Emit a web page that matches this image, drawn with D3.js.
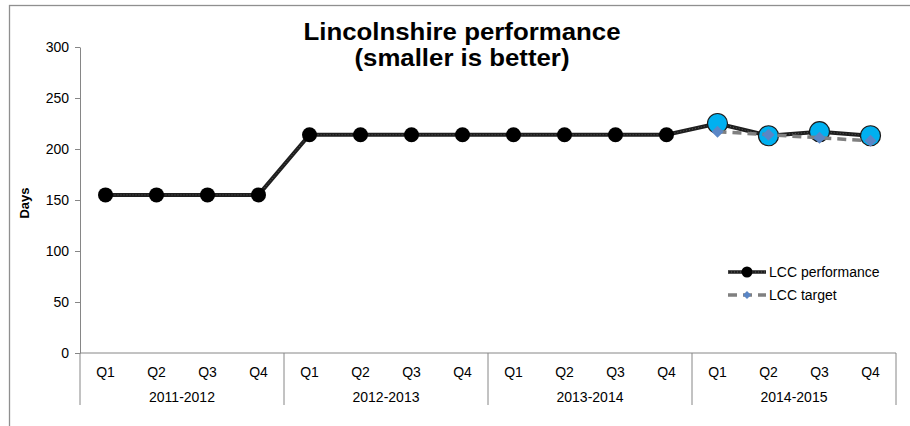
<!DOCTYPE html>
<html>
<head>
<meta charset="utf-8">
<script src="https://cdn.jsdelivr.net/npm/d3@7"></script>
<style>
  html, body { margin: 0; padding: 0; background: #fff; }
  svg { display: block; font-family: "Liberation Sans", Arial, sans-serif; }
</style>
</head>
<body>
<svg id="chart" width="910" height="426"></svg>
<script>
const titleLines = ["Lincolnshire performance", "(smaller is better)"];
const yLabel = "Days";
const years = ["2011-2012", "2012-2013", "2013-2014", "2014-2015"];
const quarters = ["Q1", "Q2", "Q3", "Q4"];
const performance = [155, 155, 155, 155, 214, 214, 214, 214, 214, 214, 214, 214, 225, 213, 217, 213];
const target = [null, null, null, null, null, null, null, null, null, null, null, null, 217, 214, 211, 208];
const highlightYear = "2014-2015";
const yTicks = [0, 50, 100, 150, 200, 250, 300];
const seriesNames = ["LCC performance", "LCC target"];

const svg = d3.select("#chart");
const plot = { left: 80, right: 896, top: 47, bottom: 353 };

const cats = [];
years.forEach(yr => quarters.forEach(q => cats.push({ year: yr, q: q })));
const idx = cats.map((d, i) => i);

const x = d3.scaleBand().domain(idx).range([plot.left, plot.right]).paddingInner(0).paddingOuter(0);
const y = d3.scaleLinear().domain([0, 300]).range([plot.bottom, plot.top]);
const cx = i => x(i) + x.bandwidth() / 2;

// outer border (extends past viewport like reference)
svg.append("rect").attr("x", 9.5).attr("y", 5.5).attr("width", 1000).attr("height", 1000)
  .attr("fill", "none").attr("stroke", "#8f8f8f").attr("stroke-width", 1.3);

// title (two separate lines)
const titleWidths = [317, 215];
const titleY = [40, 66];
titleLines.forEach((t, i) => {
  svg.append("text").attr("text-anchor", "middle")
    .attr("font-weight", "bold").attr("font-size", 23).attr("fill", "#000")
    .attr("x", 462).attr("y", titleY[i])
    .attr("textLength", titleWidths[i]).attr("lengthAdjust", "spacingAndGlyphs")
    .text(t);
});

// y axis
const yAxis = svg.append("g").attr("transform", `translate(${plot.left},0)`)
  .call(d3.axisLeft(y).tickValues(yTicks).tickSize(5).tickPadding(6).tickSizeOuter(0));
yAxis.select(".domain").attr("stroke", "#868686");
yAxis.selectAll(".tick line").attr("stroke", "#868686");
yAxis.selectAll(".tick text").attr("font-size", 14).attr("fill", "#000")
  .attr("font-family", "Liberation Sans, Arial, sans-serif");

svg.append("text").attr("transform", `translate(29,203) rotate(-90)`)
  .attr("text-anchor", "middle").attr("font-weight", "bold").attr("font-size", 13)
  .text(yLabel);

// x axis line
svg.append("line").attr("x1", plot.left).attr("x2", plot.right)
  .attr("y1", y(0)).attr("y2", y(0)).attr("stroke", "#868686");

// group separators
const boundaries = years.map((yr, g) => x(g * quarters.length)).concat([plot.right]);
svg.selectAll(".sep").data(boundaries).enter().append("line")
  .attr("x1", d => d).attr("x2", d => d)
  .attr("y1", y(0)).attr("y2", 405)
  .attr("stroke", "#868686").attr("stroke-width", 1);

// quarter labels
svg.selectAll(".qlab").data(cats).enter().append("text")
  .attr("x", (d, i) => cx(i)).attr("y", 377)
  .attr("text-anchor", "middle").attr("font-size", 14).text(d => d.q);

// year labels
svg.selectAll(".ylab").data(years).enter().append("text")
  .attr("x", (d, g) => (boundaries[g] + boundaries[g + 1]) / 2).attr("y", 402)
  .attr("text-anchor", "middle").attr("font-size", 14).text(d => d);

// performance line
const line = d3.line().defined(d => d.v != null).x(d => cx(d.i)).y(d => y(d.v));
const perfData = performance.map((v, i) => ({ i, v }));
svg.append("path").datum(perfData).attr("d", line)
  .attr("fill", "none").attr("stroke", "#1e1e1e").attr("stroke-width", 4).attr("stroke-linejoin", "round");
svg.append("path").datum(perfData).attr("d", line)
  .attr("fill", "none").attr("stroke", "#5a5a5a").attr("stroke-width", 1).attr("stroke-dasharray", "1,2");

// performance markers
svg.selectAll(".pm").data(perfData).enter().append("circle")
  .attr("cx", d => cx(d.i)).attr("cy", d => y(d.v))
  .attr("r", d => cats[d.i].year === highlightYear ? 10 : 7.5)
  .attr("fill", d => cats[d.i].year === highlightYear ? "#00B0F0" : "#000")
  .attr("stroke", d => cats[d.i].year === highlightYear ? "#1a1a1a" : "none")
  .attr("stroke-width", 1.2);

// target line
const targData = target.map((v, i) => ({ i, v }));
svg.append("path").datum(targData).attr("d", line)
  .attr("fill", "none").attr("stroke", "#808080").attr("stroke-width", 3.5)
  .attr("stroke-dasharray", "9,6");

const diamond = d3.symbol().type(d3.symbolSquare).size(72);
svg.selectAll(".tm").data(targData.filter(d => d.v != null)).enter().append("path")
  .attr("d", diamond).attr("transform", d => `translate(${cx(d.i)},${y(d.v)}) rotate(45)`)
  .attr("fill", "#5A86C6");

// legend
const lg = svg.append("g");
lg.append("line").attr("x1", 728).attr("x2", 766).attr("y1", 272).attr("y2", 272)
  .attr("stroke", "#1e1e1e").attr("stroke-width", 3.5);
lg.append("line").attr("x1", 728).attr("x2", 766).attr("y1", 272).attr("y2", 272)
  .attr("stroke", "#5a5a5a").attr("stroke-width", 1).attr("stroke-dasharray", "1,2");
lg.append("circle").attr("cx", 747).attr("cy", 272).attr("r", 5.5).attr("fill", "#000");
lg.append("text").attr("x", 769).attr("y", 277).attr("font-size", 14).text(seriesNames[0]);
lg.append("line").attr("x1", 728).attr("x2", 766).attr("y1", 295).attr("y2", 295)
  .attr("stroke", "#808080").attr("stroke-width", 3.5).attr("stroke-dasharray", "9,6");
lg.append("path").attr("d", d3.symbol().type(d3.symbolSquare).size(32))
  .attr("transform", "translate(747,295) rotate(45)").attr("fill", "#5A86C6");
lg.append("text").attr("x", 769).attr("y", 300).attr("font-size", 14).text(seriesNames[1]);
</script>
</body>
</html>
